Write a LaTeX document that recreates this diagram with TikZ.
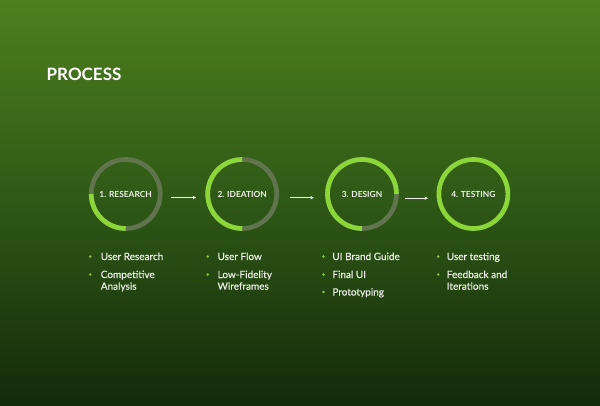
\documentclass[tikz,border=0pt]{standalone}
\usepackage{fontspec}
\setmainfont{Lato}
\newfontfamily\itemfont[FakeBold=0.35]{Lato}
\usetikzlibrary{arrows.meta}
\definecolor{bgtop}{RGB}{78,128,30}
\definecolor{bgmid}{RGB}{46,88,22}
\definecolor{bgbot}{RGB}{20,42,10}
\definecolor{brightgreen}{RGB}{141,214,58}
\definecolor{ringgray}{RGB}{96,116,78}
\definecolor{txt}{RGB}{236,240,232}
\definecolor{bulletgreen}{RGB}{140,200,60}
\begin{document}
\begin{tikzpicture}[x=1pt,y=1pt,
  ring/.style={circle, draw=ringgray, line width=4.7pt, minimum size=69pt, inner sep=0pt, text=txt, font=\bfseries\fontsize{8.4}{10}\selectfont},
  progress/.style={draw=brightgreen, line width=4.7pt},
  flow/.style={draw=txt, line width=0.8pt, -{Stealth[length=3.5pt,width=3.5pt]}},
  item/.style={anchor=base west, inner sep=0pt, text=txt, font=\itemfont\fontsize{10}{12}\selectfont},
  dot/.style={circle, fill=bulletgreen, inner sep=0pt, minimum size=2.8pt},
  title/.style={anchor=west, inner sep=0pt, text=white, font=\bfseries\fontsize{17}{20}\selectfont}]
\useasboundingbox (0,0) rectangle (600,405);
\shade[top color=bgtop, bottom color=bgbot, middle color=bgmid] (0,0) rectangle (600,405);

\node[title] (title) at (46.5,330.8) {PROCESS};

% circles
\node[ring] (c1) at (125.7,211) {1. RESEARCH};
\node[ring] (c2) at (242.2,211) {2. IDEATION};
\node[ring] (c3) at (362,211) {3. DESIGN};
\node[ring, draw=brightgreen] (c4) at (473.4,211) {4. TESTING};
\draw[progress] ([shift={(180:34.5)}]c1.center) arc[start angle=180, end angle=270, radius=34.5];
\draw[progress] ([shift={(90:34.5)}]c2.center) arc[start angle=90, end angle=270, radius=34.5];
\draw[progress] ([shift={(0:34.5)}]c3.center) arc[start angle=0, end angle=270, radius=34.5];

% arrows
\draw[flow, shorten <=8.8pt, shorten >=9.3pt] ([yshift=-3.5pt]c1.east) -- ([yshift=-3.5pt]c2.west);
\draw[flow, shorten <=11pt, shorten >=11.3pt] ([yshift=-3.7pt]c2.east) -- ([yshift=-3.7pt]c3.west);
\draw[flow, shorten <=6.2pt, shorten >=8.5pt] ([yshift=-4.2pt]c3.east) -- ([yshift=-4.2pt]c4.west);

% column 1
\node[dot] (b11) at (90.3,148.5) {};
\node[item] (t11) at (100.6,145) {User Research};
\node[dot] (b12) at (90.3,130.5) {};
\node[item] (t12) at (100.6,127) {Competitive};
\node[item] (t12b) at (100.6,115.3) {Analysis};
% column 2
\node[dot] (b21) at (207.8,148.5) {};
\node[item] (t21) at (217.4,145) {User Flow};
\node[dot] (b22) at (207.8,130.5) {};
\node[item] (t22) at (217.4,127) {Low-Fidelity};
\node[item] (t22b) at (217.4,115.3) {Wireframes};
% column 3
\node[dot] (b31) at (323.4,148.5) {};
\node[item] (t31) at (332.2,145) {UI Brand Guide};
\node[dot] (b32) at (323.4,130.5) {};
\node[item] (t32) at (332.2,127) {Final UI};
\node[dot] (b33) at (323.4,113) {};
\node[item] (t33) at (332.2,109.5) {Prototyping};
% column 4
\node[dot] (b41) at (438.2,148.5) {};
\node[item] (t41) at (446.6,145) {User testing};
\node[dot] (b42) at (438.2,130.5) {};
\node[item] (t42) at (446.6,127) {Feedback and};
\node[item] (t42b) at (446.6,115.3) {Iterations};
\end{tikzpicture}
\end{document}
